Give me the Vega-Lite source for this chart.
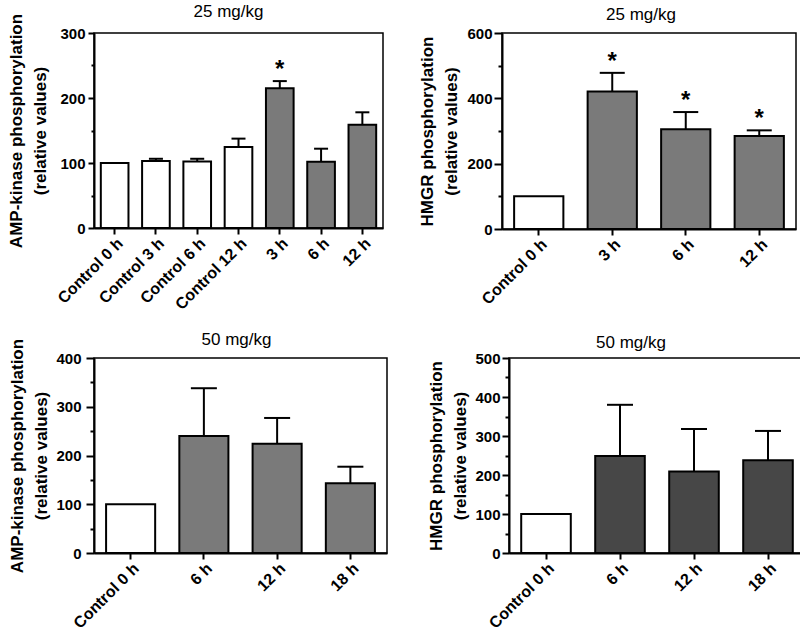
{
  "$schema": "https://vega.github.io/schema/vega-lite/v6.json",
  "padding": {"left": 6, "top": 2, "right": 2, "bottom": 2},
  "spacing": 16,
  "config": {
    "font": "Liberation Sans",
    "view": {"stroke": "black", "strokeWidth": 1.5},
    "axis": {"grid": false, "domainColor": "black", "domainWidth": 2, "tickColor": "black", "tickWidth": 2, "labelColor": "black", "labelFont": "Liberation Sans", "labelFontWeight": "bold", "labelFontSize": 15, "titleColor": "black", "titleFont": "Liberation Sans", "titleFontWeight": "bold", "titleFontSize": 17, "labelOverlap": false},
    "axisX": {"labelAngle": -45, "tickSize": 6, "labelPadding": 1, "labelFontSize": 16},
    "title": {"font": "Liberation Sans", "fontSize": 17, "fontWeight": "normal", "color": "black", "frame": "group"}
  },
  "vconcat": [
    {"hconcat": [
      {
        "width": 289, "height": 195,
        "title": {"text": "25 mg/kg", "dx": -10, "offset": -8},
        "resolve": {"axis": {"y": "independent"}},
        "data": {"values": [
          {"group": "Control 0 h", "kind": "control", "mean": 100, "upper": 100, "sig": ""},
          {"group": "Control 3 h", "kind": "control", "mean": 103, "upper": 106.5, "sig": ""},
          {"group": "Control 6 h", "kind": "control", "mean": 102.5, "upper": 106.5, "sig": ""},
          {"group": "Control 12 h", "kind": "control", "mean": 124.5, "upper": 137.5, "sig": ""},
          {"group": "3 h", "kind": "treated", "mean": 215, "upper": 226, "sig": "*"},
          {"group": "6 h", "kind": "treated", "mean": 102, "upper": 122, "sig": ""},
          {"group": "12 h", "kind": "treated", "mean": 159, "upper": 178, "sig": ""}
        ]},
        "encoding": {"x": {"field": "group", "type": "nominal", "sort": null, "title": null, "scale": {"paddingInner": 0.33, "paddingOuter": 0.165}}},
        "layer": [
          {"mark": {"type": "bar", "stroke": "black", "strokeWidth": 2},
           "encoding": {"y": {"field": "mean", "type": "quantitative", "scale": {"domain": [0, 300]},
             "title": ["AMP-kinase phosphorylation", "(relative values)"],
             "axis": {"orient": "left", "values": [0, 100, 200, 300], "tickSize": 6, "labelPadding": 3, "minExtent": 37, "maxExtent": 37, "titlePadding": 8, "titleLineHeight": 24}},
             "fill": {"condition": {"test": "datum.kind == 'control'", "value": "white"}, "value": "#7a7a7a"}}},
          {"transform": [{"filter": "datum.upper > datum.mean"}], "mark": {"type": "rule", "strokeWidth": 2, "color": "black"},
           "encoding": {"y": {"field": "mean", "type": "quantitative", "title": null,
             "axis": {"orient": "left", "values": [50, 150, 250], "labels": false, "domain": false, "tickSize": 3, "minExtent": 0, "maxExtent": 0}}, "y2": {"field": "upper"}}},
          {"transform": [{"filter": "datum.upper > datum.mean"}], "mark": {"type": "tick", "thickness": 2, "size": 14, "color": "black", "opacity": 1},
           "encoding": {"y": {"field": "upper", "type": "quantitative", "axis": null}}},
          {"transform": [{"filter": "datum.sig != ''"}], "mark": {"type": "text", "fontSize": 24, "fontWeight": "bold", "baseline": "alphabetic", "dy": -4, "color": "black"},
           "encoding": {"y": {"field": "upper", "type": "quantitative", "axis": null}, "text": {"field": "sig"}}}
        ]
      },
      {
        "width": 294, "height": 196,
        "title": {"text": "25 mg/kg", "dx": -8, "offset": 2},
        "resolve": {"axis": {"y": "independent"}},
        "data": {"values": [
          {"group": "Control 0 h", "kind": "control", "mean": 100, "upper": 100, "sig": ""},
          {"group": "3 h", "kind": "treated", "mean": 421, "upper": 478, "sig": "*"},
          {"group": "6 h", "kind": "treated", "mean": 305, "upper": 358, "sig": "*"},
          {"group": "12 h", "kind": "treated", "mean": 285, "upper": 302, "sig": "*"}
        ]},
        "encoding": {"x": {"field": "group", "type": "nominal", "sort": null, "title": null, "scale": {"paddingInner": 0.33, "paddingOuter": 0.165}}},
        "layer": [
          {"mark": {"type": "bar", "stroke": "black", "strokeWidth": 2},
           "encoding": {"y": {"field": "mean", "type": "quantitative", "scale": {"domain": [0, 600]},
             "title": ["HMGR phosphorylation", "(relative values)"],
             "axis": {"orient": "left", "values": [0, 200, 400, 600], "tickSize": 8, "labelPadding": 2, "minExtent": 34, "maxExtent": 34, "titlePadding": 8, "titleLineHeight": 24}},
             "fill": {"condition": {"test": "datum.kind == 'control'", "value": "white"}, "value": "#7a7a7a"}}},
          {"transform": [{"filter": "datum.upper > datum.mean"}], "mark": {"type": "rule", "strokeWidth": 2, "color": "black"},
           "encoding": {"y": {"field": "mean", "type": "quantitative", "title": null,
             "axis": {"orient": "left", "values": [100, 300, 500], "labels": false, "domain": false, "tickSize": 4, "minExtent": 0, "maxExtent": 0}}, "y2": {"field": "upper"}}},
          {"transform": [{"filter": "datum.upper > datum.mean"}], "mark": {"type": "tick", "thickness": 2, "size": 25, "color": "black", "opacity": 1},
           "encoding": {"y": {"field": "upper", "type": "quantitative", "axis": null}}},
          {"transform": [{"filter": "datum.sig != ''"}], "mark": {"type": "text", "fontSize": 24, "fontWeight": "bold", "baseline": "alphabetic", "dy": -4, "color": "black"},
           "encoding": {"y": {"field": "upper", "type": "quantitative", "axis": null}, "text": {"field": "sig"}}}
        ]
      }
    ], "spacing": 33},
    {"hconcat": [
      {
        "width": 293, "height": 195,
        "title": {"text": "50 mg/kg", "dx": -4, "offset": -11},
        "resolve": {"axis": {"y": "independent"}},
        "data": {"values": [
          {"group": "Control 0 h", "kind": "control", "mean": 100, "upper": 100},
          {"group": "6 h", "kind": "treated", "mean": 240, "upper": 338},
          {"group": "12 h", "kind": "treated", "mean": 224, "upper": 277},
          {"group": "18 h", "kind": "treated", "mean": 143, "upper": 177}
        ]},
        "encoding": {"x": {"field": "group", "type": "nominal", "sort": null, "title": null, "scale": {"paddingInner": 0.33, "paddingOuter": 0.165}}},
        "layer": [
          {"mark": {"type": "bar", "stroke": "black", "strokeWidth": 2},
           "encoding": {"y": {"field": "mean", "type": "quantitative", "scale": {"domain": [0, 400]},
             "title": ["AMP-kinase phosphorylation", "(relative values)"],
             "axis": {"orient": "left", "values": [0, 100, 200, 300, 400], "tickSize": 8, "labelPadding": 5, "minExtent": 36, "maxExtent": 36, "titlePadding": 8, "titleLineHeight": 24}},
             "fill": {"condition": {"test": "datum.kind == 'control'", "value": "white"}, "value": "#7a7a7a"}}},
          {"transform": [{"filter": "datum.upper > datum.mean"}], "mark": {"type": "rule", "strokeWidth": 2, "color": "black"},
           "encoding": {"y": {"field": "mean", "type": "quantitative", "title": null,
             "axis": {"orient": "left", "values": [50, 150, 250, 350], "labels": false, "domain": false, "tickSize": 4, "minExtent": 0, "maxExtent": 0}}, "y2": {"field": "upper"}}},
          {"transform": [{"filter": "datum.upper > datum.mean"}], "mark": {"type": "tick", "thickness": 2, "size": 26, "color": "black", "opacity": 1},
           "encoding": {"y": {"field": "upper", "type": "quantitative", "axis": null}}}
        ]
      },
      {
        "width": 296, "height": 195,
        "title": {"text": "50 mg/kg", "dx": -26, "offset": -1},
        "resolve": {"axis": {"y": "independent"}},
        "data": {"values": [
          {"group": "Control 0 h", "kind": "control", "mean": 100, "upper": 100},
          {"group": "6 h", "kind": "treated", "mean": 249, "upper": 380},
          {"group": "12 h", "kind": "treated", "mean": 209, "upper": 318},
          {"group": "18 h", "kind": "treated", "mean": 238, "upper": 313}
        ]},
        "encoding": {"x": {"field": "group", "type": "nominal", "sort": null, "title": null, "scale": {"paddingInner": 0.33, "paddingOuter": 0.165}}},
        "layer": [
          {"mark": {"type": "bar", "stroke": "black", "strokeWidth": 2},
           "encoding": {"y": {"field": "mean", "type": "quantitative", "scale": {"domain": [0, 500]},
             "title": ["HMGR phosphorylation", "(relative values)"],
             "axis": {"orient": "left", "values": [0, 100, 200, 300, 400, 500], "tickSize": 7, "labelPadding": 2, "minExtent": 32, "maxExtent": 32, "titlePadding": 8, "titleLineHeight": 24}},
             "fill": {"condition": {"test": "datum.kind == 'control'", "value": "white"}, "value": "#474747"}}},
          {"transform": [{"filter": "datum.upper > datum.mean"}], "mark": {"type": "rule", "strokeWidth": 2, "color": "black"},
           "encoding": {"y": {"field": "mean", "type": "quantitative", "title": null,
             "axis": {"orient": "left", "values": [50, 150, 250, 350, 450], "labels": false, "domain": false, "tickSize": 4, "minExtent": 0, "maxExtent": 0}}, "y2": {"field": "upper"}}},
          {"transform": [{"filter": "datum.upper > datum.mean"}], "mark": {"type": "tick", "thickness": 2, "size": 26, "color": "black", "opacity": 1},
           "encoding": {"y": {"field": "upper", "type": "quantitative", "axis": null}}}
        ]
      }
    ], "spacing": 38}
  ]
}
